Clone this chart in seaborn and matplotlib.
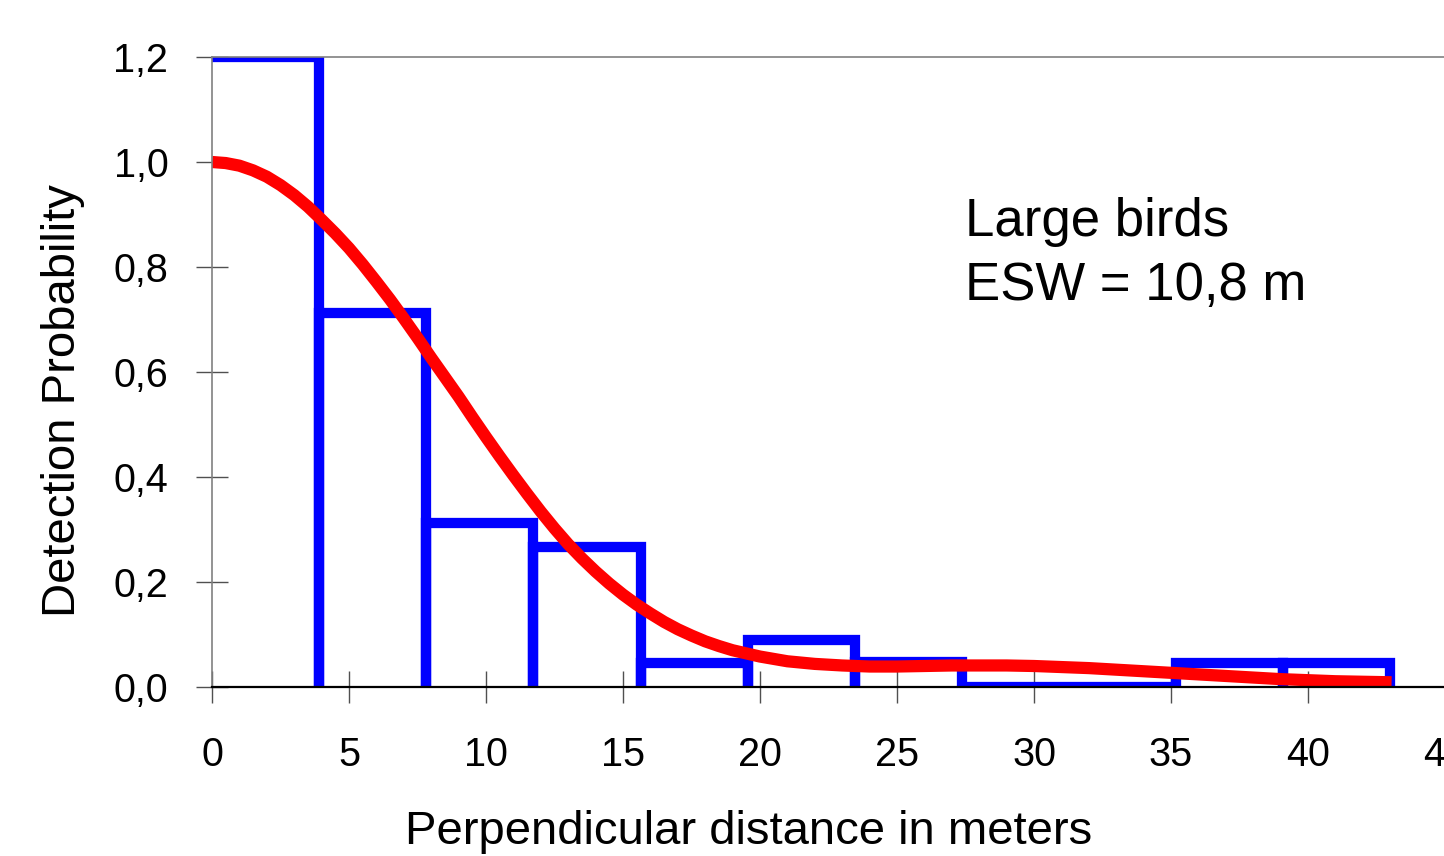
import numpy as np
import matplotlib
matplotlib.use("Agg")
import matplotlib.pyplot as plt
import seaborn as sns

# ---- data ------------------------------------------------------------------
bin_width = 3.91
bar_heights = [1.20, 0.713, 0.312, 0.267, 0.045, 0.090, 0.048, 0.0, 0.0, 0.045, 0.045]

curve_dist = [0, 0.5, 1, 1.5, 2, 2.5, 3, 3.5, 4, 4.5, 5, 5.5, 6, 6.5, 7, 7.5,
              8, 8.5, 9, 9.5, 10, 10.5, 11, 11.5, 12, 12.5, 13, 13.5, 14, 14.5,
              15, 15.5, 16, 16.5, 17, 17.5, 18, 18.5, 19, 19.5, 20, 21, 22, 23,
              24, 25, 26, 27, 28, 29, 30, 31, 32, 33, 34, 35, 36, 37, 38, 39,
              40, 41, 42, 43.05]
curve_prob = [1.000, 0.998, 0.993, 0.984, 0.972, 0.956, 0.937, 0.915, 0.890,
              0.864, 0.836, 0.805, 0.772, 0.738, 0.702, 0.665, 0.627, 0.590,
              0.553, 0.514, 0.476, 0.439, 0.403, 0.368, 0.334, 0.302, 0.272,
              0.245, 0.220, 0.197, 0.176, 0.157, 0.140, 0.124, 0.110, 0.098,
              0.087, 0.078, 0.070, 0.064, 0.058, 0.049, 0.044, 0.041, 0.039,
              0.039, 0.040, 0.041, 0.041, 0.041, 0.040, 0.038, 0.036, 0.033,
              0.030, 0.027, 0.024, 0.021, 0.018, 0.015, 0.013, 0.011, 0.010,
              0.009]

x_ticks = [0, 5, 10, 15, 20, 25, 30, 35, 40, 45]
y_ticks = [0.0, 0.2, 0.4, 0.6, 0.8, 1.0, 1.2]
y_tick_labels = ["0,0", "0,2", "0,4", "0,6", "0,8", "1,0", "1,2"]

# ---- histogram outline path: top of each bar, then down to zero at its right edge
edges = np.arange(len(bar_heights) + 1) * bin_width
path_x, path_y = [], []
for i, h in enumerate(bar_heights):
    path_x += [edges[i], edges[i + 1], edges[i + 1]]
    path_y += [h, h, 0.0]

sns.set_style("ticks")
plt.rcParams["font.family"] = ["Liberation Sans", "DejaVu Sans"]
plt.rcParams["text.color"] = "black"
plt.rcParams["axes.labelcolor"] = "black"

fig = plt.figure(figsize=(14.44, 8.56), dpi=100)
ax = fig.add_axes([212 / 1444, 1 - 687 / 856, (1445 - 212) / 1444, (687 - 57) / 856])

sns.lineplot(x=path_x, y=path_y, sort=False, estimator=None, ax=ax,
             color="#0000ff", linewidth=7.4, zorder=2)
ax.lines[-1].set_solid_joinstyle("miter")
sns.lineplot(x=curve_dist, y=curve_prob, sort=False, estimator=None, ax=ax,
             color="#ff0000", linewidth=8.8, zorder=3)
ax.lines[-1].set_solid_capstyle("butt")

ax.set_xlim(0, 45)
ax.set_ylim(0, 1.2)
ax.set_xticks(x_ticks)
ax.set_xticklabels([str(t) for t in x_ticks])
ax.set_yticks(y_ticks)
ax.set_yticklabels(y_tick_labels)
ax.tick_params(axis="both", direction="inout", length=23, width=1.0,
               color="#505050", labelsize=28.5, labelcolor="black")
ax.tick_params(axis="x", pad=24)
ax.tick_params(axis="y", pad=20)

for side in ["top", "left"]:
    ax.spines[side].set_color("#808080")
    ax.spines[side].set_linewidth(1.2)
ax.spines["bottom"].set_color("black")
ax.spines["bottom"].set_linewidth(1.6)
ax.spines["right"].set_visible(False)
for sp in ax.spines.values():
    sp.set_zorder(4)

ax.set_xlabel("Perpendicular distance in meters", fontsize=34)
ax.set_ylabel("Detection Probability", fontsize=34)
ax.xaxis.set_label_coords(0.435, -0.196)
ax.yaxis.set_label_coords(-0.103, 0.454)

ax.text(27.48, 0.859, "Large birds", fontsize=38, va="baseline", ha="left")
ax.text(27.48, 0.737, "ESW = 10,8 m", fontsize=38, va="baseline", ha="left")

fig.savefig("out.png", dpi=100)
